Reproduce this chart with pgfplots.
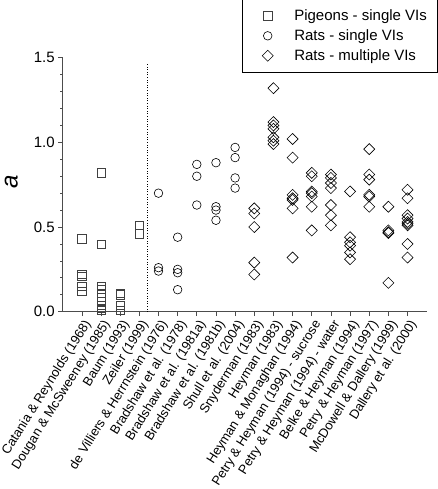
\documentclass[border=0pt]{standalone}
\usepackage{fontspec}
\setmainfont{Liberation Sans}
\usepackage{pgfplots}
\pgfplotsset{compat=1.18}
\begin{document}
\begin{tikzpicture}
\begin{axis}[
  scale only axis,
  width=364pt, height=254pt,
  xmin=-1, xmax=18, ymin=0, ymax=1.5,
  axis x line*=bottom, axis y line*=left,
  axis line style={black!70, line width=0.7pt},
  every tick/.style={black!70, line width=0.7pt},
  tick align=outside,
  major tick length=4.5pt, minor tick length=2.5pt,
  ytick={0,0.5,1.0,1.5},
  yticklabels={0.0,0.5,1.0,1.5},
  minor ytick={0.1,0.2,0.3,0.4,0.6,0.7,0.8,0.9,1.1,1.2,1.3,1.4},
  xtick={0,1,...,17},
  xticklabels={Catania \& Reynolds (1968),Dougan \& McSweeney (1985),Baum (1993),Zeiler (1999),de Villiers \& Herrnstein (1976),Bradshaw et al. (1978),Bradshaw et al. (1981a),Bradshaw et al. (1981b),Shull et al. (2004),Snyderman (1983),Heyman (1983),Heyman \& Monaghan (1994),Petry \& Heyman (1994) -  sucrose,Petry \& Heyman (1994) - water,Belke \& Heyman (1994),Petry \& Heyman (1997),McDowell \& Dallery (1999),Dallery et al. (2000)},
  x tick label style={rotate=58, anchor=north east, font=\fontsize{13}{13}\selectfont, inner sep=1pt, yshift=-1pt},
  y tick label style={font=\fontsize{15}{15}\selectfont},
  /pgf/number format/assume math mode=true,
  ylabel={\fontsize{24}{24}\selectfont\itshape a},
  ylabel style={at={(axis description cs:-0.141,0.51)}, anchor=center, inner sep=0pt},
  legend image code/.code={\path[draw=none, fill=none] (0pt,-4pt) rectangle (51.6pt,4pt); \draw[#1, only marks] plot coordinates {(25pt,0pt)};},
  legend style={at={(axis description cs:1.0288,1.2297)}, anchor=north east,
    draw=black, line width=0.6pt, font=\fontsize{15}{17}\selectfont,
    row sep=3.6pt, inner xsep=0pt, inner ysep=8pt, legend cell align=left,
    nodes={inner xsep=0pt},
    /tikz/every odd column/.append style={column sep=0pt}},
  every axis plot/.append style={only marks, line width=0.6pt},
]
\coordinate (O) at (rel axis cs:0,0);
\addplot [mark=square, mark size=4.1pt, mark options={draw=black!75, fill=none}] coordinates {
(0,0.43) (0,0.22) (0,0.21) (0,0.15) (0,0.12)
(1,0.82) (1,0.40) (1,0.15) (1,0.13) (1,0.11) (1,0.06) (1,0.04) (1,0.02) (1,0.01)
(2,0.11) (2,0.10) (2,0.04) (2,0.01)
(3,0.51) (3,0.46)
};
\addlegendentry{Pigeons - single VIs\hspace*{10pt}}
\addplot [mark=o, mark size=4.3pt, mark options={draw=black, fill=none}] coordinates {
(4,0.70) (4,0.26) (4,0.24)
(5,0.44) (5,0.25) (5,0.23) (5,0.13)
(6,0.87) (6,0.80) (6,0.63)
(7,0.88) (7,0.62) (7,0.60) (7,0.54)
(8,0.97) (8,0.91) (8,0.79) (8,0.73)
};
\addlegendentry{Rats - single VIs}
\addplot [mark=square, mark size=3.9pt, mark options={draw=black, fill=none, rotate=45}] coordinates {
(9,0.61) (9,0.58) (9,0.50) (9,0.29) (9,0.22)
(10,1.32) (10,1.12) (10,1.10) (10,1.08) (10,1.03) (10,1.01) (10,0.99)
(11,1.02) (11,0.91) (11,0.69) (11,0.67) (11,0.66) (11,0.61) (11,0.32)
(12,0.82) (12,0.80) (12,0.71) (12,0.70) (12,0.68) (12,0.62) (12,0.48)
(13,0.81) (13,0.79) (13,0.76) (13,0.73) (13,0.63) (13,0.57) (13,0.51)
(14,0.71) (14,0.44) (14,0.41) (14,0.39) (14,0.35) (14,0.31)
(15,0.96) (15,0.81) (15,0.78) (15,0.69) (15,0.68) (15,0.62)
(16,0.62) (16,0.48) (16,0.47) (16,0.465) (16,0.17)
(17,0.72) (17,0.67) (17,0.57) (17,0.55) (17,0.53) (17,0.52) (17,0.51) (17,0.40) (17,0.32)
};
\addlegendentry{Rats - multiple VIs}
\addplot [forget plot, no marks, sharp plot, dotted, line width=0.8pt, black] coordinates {(3.43,0) (3.43,1.46)};
\end{axis}
\pgfresetboundingbox
\path ([shift={(-62.7pt,-177.3pt)}]O) rectangle ++(438pt,489pt);
\end{tikzpicture}
\end{document}
